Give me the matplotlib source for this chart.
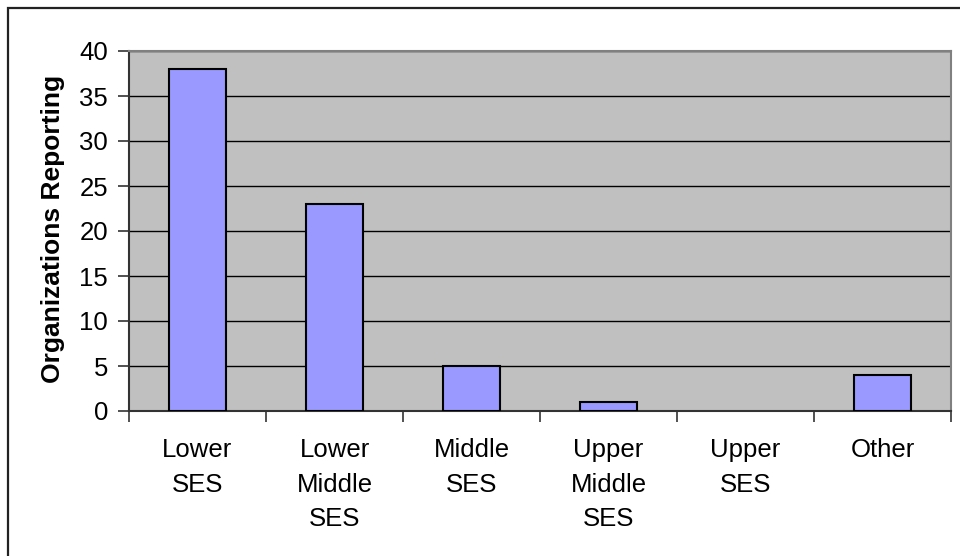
import matplotlib
matplotlib.use("Agg")
import matplotlib.pyplot as plt
from matplotlib.patches import Rectangle
import numpy as np

categories = ["Lower\nSES", "Lower\nMiddle\nSES", "Middle\nSES", "Upper\nMiddle\nSES", "Upper\nSES", "Other"]
counts = [38, 23, 5, 1, 0, 4]
y_ticks = [0, 5, 10, 15, 20, 25, 30, 35, 40]
y_label = "Organizations Reporting"

plt.rcParams["font.family"] = ["Liberation Sans", "DejaVu Sans"]

W, H = 960, 556
fig = plt.figure(figsize=(W / 100, H / 100), dpi=100)
fig.patch.set_facecolor("white")

# outer chart frame (top/left edges visible; the rest runs off the canvas)
fig.add_artist(Rectangle((8 / W, -0.1), 1.2, 1 - 8 / H + 0.1, transform=fig.transFigure,
                         fill=False, edgecolor="#222222", linewidth=1.6))

left, right, top, bottom = 129 / W, 951 / W, 51 / H, 411 / H
ax = fig.add_axes([left, 1 - bottom, right - left, bottom - top])
ax.set_facecolor("#C0C0C0")

x = np.arange(len(categories))
edge_widths = [1.5 if c > 0 else 0 for c in counts]
ax.bar(x, counts, width=0.42, color="#9999FF", edgecolor="black", linewidth=edge_widths, zorder=3)

ax.set_xlim(-0.5, len(categories) - 0.5)
ax.set_ylim(0, 40)
ax.set_yticks(y_ticks)
ax.yaxis.grid(True, color="black", linewidth=1.0, zorder=1)
ax.set_axisbelow(True)

ax.set_xticks(x)
ax.set_xticklabels(categories, fontsize=18.5, linespacing=1.55)
ax.set_xticks(np.arange(len(categories) + 1) - 0.5, minor=True)
ax.tick_params(axis="x", which="major", length=0, pad=19.5)
ax.tick_params(axis="x", which="minor", length=8, width=1.2, color="#333333", direction="out")
ax.tick_params(axis="y", labelsize=18.5, length=8, width=1.2, color="#333333", pad=7)

for s in ("top", "right"):
    ax.spines[s].set_color("#808080")
    ax.spines[s].set_linewidth(1.5)
for s in ("left", "bottom"):
    ax.spines[s].set_color("#333333")
    ax.spines[s].set_linewidth(1.5)

fig.text(53 / W, 1 - 229 / H, y_label, rotation=90, fontsize=19, fontweight="bold",
         ha="center", va="center")

fig.savefig("out.png", dpi=100)
